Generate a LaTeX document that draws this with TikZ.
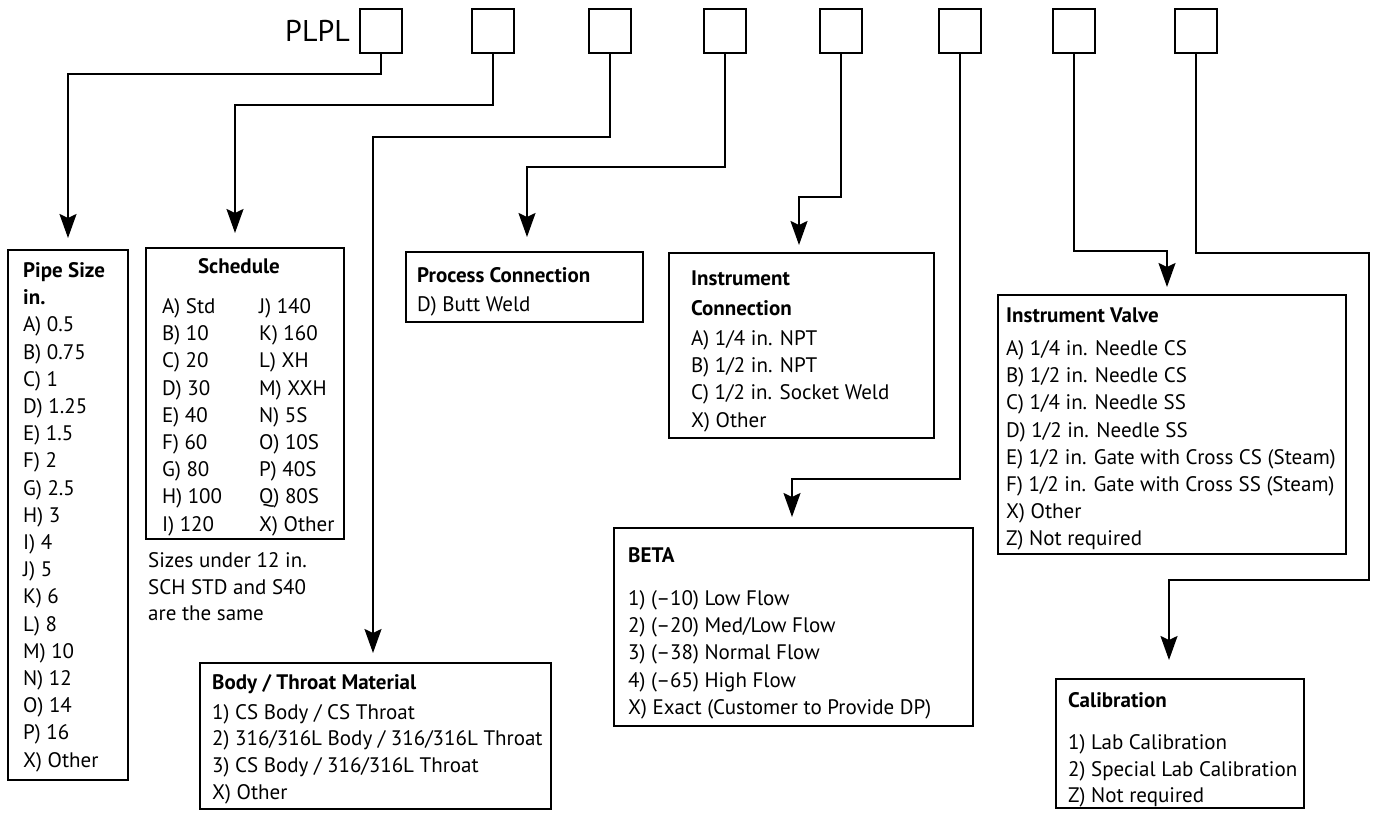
\documentclass[tikz,border=0pt]{standalone}
\usepackage{fontspec}
\setmainfont{PT Sans}
\usetikzlibrary{arrows.meta}
\tikzset{
  codebox/.style={draw, line width=2.6pt, minimum width=42pt, minimum height=44pt, inner sep=0pt},
  optbox/.style={draw, line width=2.4pt, anchor=north west, inner sep=0pt},
  optext/.style={anchor=base west, inner sep=0pt, font=\fontsize{21}{27.2}\selectfont},
  arr/.style={-{Stealth[length=24pt, width=17pt, inset=4pt]}, line width=2pt},
}

\begin{document}
\begin{tikzpicture}[x=1pt, y=-1pt]
  \useasboundingbox (0,0) rectangle (1378,812);
  % order code
  \node[font=\fontsize{30}{36}\selectfont, anchor=east, inner sep=0pt] (plpl) at (350,31) {PLPL};
  \foreach \x [count=\i] in {381,493,610,725,841,960,1074,1196}
    \node[codebox] (t\i) at (\x,31) {};

  % option boxes
  \node[optbox, minimum width=120pt, minimum height=530pt] (pipe) at (7,249) {};
  \node[optbox, minimum width=198pt, minimum height=291pt] (sched) at (145,247) {};
  \node[optbox, minimum width=351pt, minimum height=146pt] (body) at (199,662) {};
  \node[optbox, minimum width=237pt, minimum height=70pt] (proc) at (405,251) {};
  \node[optbox, minimum width=265pt, minimum height=185pt] (inst) at (668,252) {};
  \node[optbox, minimum width=359pt, minimum height=198pt] (beta) at (613,527) {};
  \node[optbox, minimum width=348pt, minimum height=259pt] (valve) at (997,294) {};
  \node[optbox, minimum width=248pt, minimum height=129pt] (calib) at (1055,678) {};

  % texts
  \node[optext] (pipetxt) at (23,277.5) {\begin{tabular}[t]{@{}l@{}}
    \bfseries Pipe Size\\ \bfseries in.\\ A) 0.5\\ B) 0.75\\ C) 1\\ D) 1.25\\ E) 1.5\\ F) 2\\
    G) 2.5\\ H) 3\\ I) 4\\ J) 5\\ K) 6\\ L) 8\\ M) 10\\ N) 12\\ O) 14\\ P) 16\\ X) Other
  \end{tabular}};
  \node[optext, anchor=base] (schedhd) at (239,273.5) {\bfseries Schedule};
  \node[optext] (schedtxt) at (162,313.5) {\begin{tabular}[t]{@{}p{97pt}@{}l@{}}
    A) Std & J) 140\\ B) 10 & K) 160\\ C) 20 & L) XH\\ D) 30 & M) XXH\\ E) 40 & N) 5S\\
    F) 60 & O) 10S\\ G) 80 & P) 40S\\ H) 100 & Q) 80S\\ I) 120 & X) Other
  \end{tabular}};
  \node[optext, font=\fontsize{21}{26.5}\selectfont] (note) at (148,567.5) {\begin{tabular}[t]{@{}l@{}}
    Sizes under 12 in.\\ SCH STD and S40\\ are the same
  \end{tabular}};
  \node[optext, font=\fontsize{21}{26.7}\selectfont] (bodytxt) at (212,689.5) {\begin{tabular}[t]{@{}l@{}}
    \bfseries Body / Throat Material\\[3pt] 1) CS Body / CS Throat\\
    2) 316/316L Body / 316/316L Throat\\ 3) CS Body / 316/316L Throat\\ X) Other
  \end{tabular}};
  \node[optext] (proctxt) at (417,282.5) {\begin{tabular}[t]{@{}l@{}}
    \bfseries Process Connection\\[1.8pt] D) Butt Weld
  \end{tabular}};
  \node[optext] (insttxt) at (691,285.5) {\begin{tabular}[t]{@{}l@{}}
    \bfseries Instrument\\[2.8pt] \bfseries Connection\\[2.8pt] A) 1/4 in. NPT\\
    B) 1/2 in. NPT\\ C) 1/2 in. Socket Weld\\ X) Other
  \end{tabular}};
  \node[optext] (betatxt) at (628,562.5) {\begin{tabular}[t]{@{}l@{}}
    \bfseries BETA\\[15.8pt] 1) (--10) Low Flow\\ 2) (--20) Med/Low Flow\\
    3) (--38) Normal Flow\\ 4) (--65) High Flow\\ X) Exact (Customer to Provide DP)
  \end{tabular}};
  \node[optext] (valvetxt) at (1006,322.5) {\begin{tabular}[t]{@{}l@{}}
    \bfseries Instrument Valve\\[5.8pt] A) 1/4 in. Needle CS\\ B) 1/2 in. Needle CS\\
    C) 1/4 in. Needle SS\\ D) 1/2 in. Needle SS\\ E) 1/2 in. Gate with Cross CS (Steam)\\
    F) 1/2 in. Gate with Cross SS (Steam)\\ X) Other\\ Z) Not required
  \end{tabular}};
  \node[optext, font=\fontsize{21}{26.5}\selectfont] (calibtxt) at (1068,707.5) {\begin{tabular}[t]{@{}l@{}}
    \bfseries Calibration\\[15.5pt] 1) Lab Calibration\\ 2) Special Lab Calibration\\ Z) Not required
  \end{tabular}};

  % connectors
  \coordinate (k1) at (68,74);
  \coordinate (k2) at (235,105);
  \coordinate (k3) at (373,137);
  \coordinate (k4) at (527,167);
  \coordinate (k5) at (799,197);
  \coordinate (k6) at (792,479);
  \coordinate (k7) at (1167,251);
  \coordinate (k8a) at (1369,253);
  \coordinate (k8b) at (1169,580);
  \draw[arr, shorten >=11pt] (t1.south) |- (k1) -- (k1 |- pipe.north);
  \draw[arr, shorten >=14pt] (t2.south) |- (k2) -- (k2 |- sched.north);
  \draw[arr, shorten >=9pt] (t3.south) |- (k3) -- (k3 |- body.north);
  \draw[arr, shorten >=14pt] (t4.south) |- (k4) -- (k4 |- proc.north);
  \draw[arr, shorten >=7pt] (t5.south) |- (k5) -- (k5 |- inst.north);
  \draw[arr, shorten >=10pt] (t6.south) |- (k6) -- (k6 |- beta.north);
  \draw[arr, shorten >=7pt] (t7.south) |- (k7) -- (k7 |- valve.north);
  \draw[arr, shorten >=18pt] (t8.south) |- (k8a) |- (k8b) -- (k8b |- calib.north);
\end{tikzpicture}
\end{document}
